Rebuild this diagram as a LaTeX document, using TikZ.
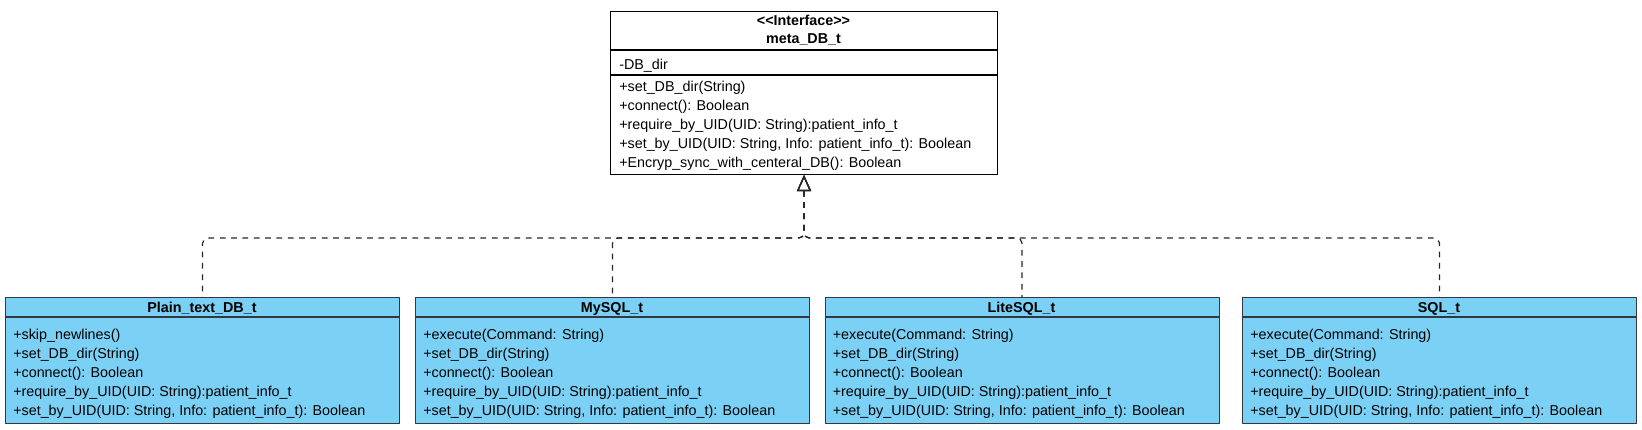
\documentclass[tikz,border=0pt]{standalone}
\usepackage{fontspec}
\setmainfont{Liberation Sans}[Ligatures=TeXOff]
\usepackage{tikz}
\usetikzlibrary{arrows.meta}
\definecolor{umlblue}{RGB}{123,208,245}
\definecolor{umledge}{RGB}{50,56,62}
\newcommand{\umlfont}{\fontsize{10.75pt}{14.35pt}\selectfont}
\tikzset{
  every node/.style={font=\umlfont},
  ifacebox/.style={draw=black,fill=white,line width=0.8pt,inner sep=0pt,anchor=north west,minimum width=290.25pt,minimum height=122.25pt},
  classbox/.style={draw=umledge,fill=umlblue,line width=0.8pt,inner sep=0pt,anchor=north west,minimum width=295.5pt,minimum height=94.5pt},
  classname/.style={font=\umlfont\bfseries,anchor=base,inner sep=0pt},
  members/.style={align=left,anchor=north west,inner sep=0pt},
  realize/.style={<-,draw=black!85,line width=0.9pt,dash pattern=on 4.3pt off 4.2pt,rounded corners=4pt}
}

\begin{document}
\begin{tikzpicture}[line join=round,x=0.75pt,y=-0.75pt,>={Triangle[open,length=12pt,width=10.5pt]}]
            \useasboundingbox (0,0) rectangle (1642,429);
            % interface
            \node[ifacebox] (meta) at (610,11) {};
            \draw [line width=0.8pt] ([yshift=-29.25pt]meta.north west) -- ([yshift=-29.25pt]meta.north east);
            \draw [line width=0.8pt] ([yshift=-48pt]meta.north west) -- ([yshift=-48pt]meta.north east);
            \node[classname] (metastereo) at (803.5,25) {<<Interface>>};
            \node[classname] (metaname) at (803.5,43) {meta\_DB\_t};
            \node[members] (metaattr) at (619,58.6) {-DB\_dir};
            \node[members] (metaops) at (619,80.6) {+set\_DB\_dir(String)\\+connect(): Boolean\\+require\_by\_UID(UID: String):patient\_info\_t\\+set\_by\_UID(UID: String, Info: patient\_info\_t): Boolean\\+Encryp\_sync\_with\_centeral\_DB(): Boolean};
            % implementations
            \node[classbox] (plain) at (5,297) {};
            \node[classbox] (mysql) at (415,297) {};
            \node[classbox] (lite) at (824.5,297) {};
            \node[classbox] (sql) at (1242,297) {};
            \draw [umledge,line width=0.8pt] ([yshift=-15pt]plain.north west) -- ([yshift=-15pt]plain.north east);
            \draw [umledge,line width=0.8pt] ([yshift=-15pt]mysql.north west) -- ([yshift=-15pt]mysql.north east);
            \draw [umledge,line width=0.8pt] ([yshift=-15pt]lite.north west) -- ([yshift=-15pt]lite.north east);
            \draw [umledge,line width=0.8pt] ([yshift=-15pt]sql.north west) -- ([yshift=-15pt]sql.north east);
            \node[classname] (plainname) at (202,312) {Plain\_text\_DB\_t};
            \node[classname] (mysqlname) at (612,312) {MySQL\_t};
            \node[classname] (litename) at (1021.5,312) {LiteSQL\_t};
            \node[classname] (sqlname) at (1439,312) {SQL\_t};
            \node[members] (plainops) at (13,328.6) {+skip\_newlines()\\+set\_DB\_dir(String)\\+connect(): Boolean\\+require\_by\_UID(UID: String):patient\_info\_t\\+set\_by\_UID(UID: String, Info: patient\_info\_t): Boolean};
            \node[members] (mysqlops) at (423,328.6) {+execute(Command: String)\\+set\_DB\_dir(String)\\+connect(): Boolean\\+require\_by\_UID(UID: String):patient\_info\_t\\+set\_by\_UID(UID: String, Info: patient\_info\_t): Boolean};
            \node[members] (liteops) at (832.5,328.6) {+execute(Command: String)\\+set\_DB\_dir(String)\\+connect(): Boolean\\+require\_by\_UID(UID: String):patient\_info\_t\\+set\_by\_UID(UID: String, Info: patient\_info\_t): Boolean};
            \node[members] (sqlops) at (1250,328.6) {+execute(Command: String)\\+set\_DB\_dir(String)\\+connect(): Boolean\\+require\_by\_UID(UID: String):patient\_info\_t\\+set\_by\_UID(UID: String, Info: patient\_info\_t): Boolean};
            % realizations
            \draw [realize] (meta.south) -- ++(0,63) -| (plain.north);
            \draw [realize] (meta.south) -- ++(0,63) -| (mysql.north);
            \draw [realize] (meta.south) -- ++(0,63) -| (lite.north);
            \draw [realize] (meta.south) -- ++(0,63) -| (sql.north);
\end{tikzpicture}
\end{document}
